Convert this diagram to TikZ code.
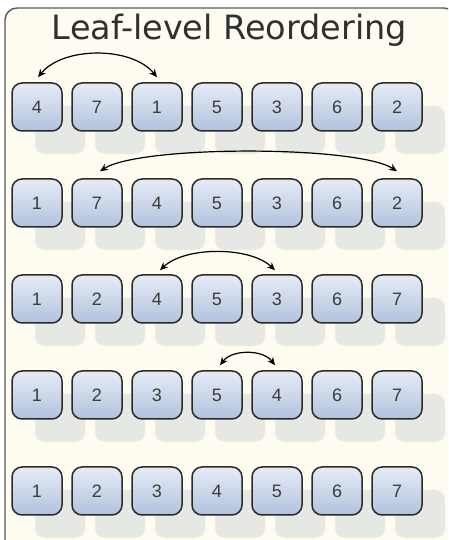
\documentclass[tikz,border=0pt]{standalone}
\usepackage{fontspec}
\setmainfont{DejaVu Sans}
\newfontfamily\numfont{Liberation Sans}
\usetikzlibrary{arrows.meta}
\definecolor{cream}{HTML}{FEFCF0}
\definecolor{framecol}{HTML}{5A5A5A}
\definecolor{shadowcol}{HTML}{E6E8E3}
\definecolor{boxtop}{HTML}{E6ECF6}
\definecolor{boxbot}{HTML}{B2C2DE}
\definecolor{boxline}{HTML}{2A2A2A}
\definecolor{numcol}{HTML}{3C3C3C}
\definecolor{titlecol}{HTML}{303030}
\tikzset{
  cell/.style={rectangle, rounded corners=10pt, minimum width=50pt, minimum height=48pt,
    draw=boxline, line width=1.5pt, top color=boxtop, bottom color=boxbot,
    font=\numfont\fontsize{18}{18}\selectfont, text=numcol, inner sep=0pt},
  shade box/.style={rectangle, rounded corners=10pt, minimum width=50pt, minimum height=48pt,
    fill=shadowcol, draw=none, inner sep=0pt},
  swap/.style={{Stealth[length=8pt,width=7pt]}-{Stealth[length=8pt,width=7pt]}, line width=1.2pt, black}
}
\begin{document}
\begin{tikzpicture}[x=1pt,y=1pt]
\useasboundingbox (0,0) rectangle (448,540);
\clip (0,0) rectangle (448,540);
\fill[white] (0,0) rectangle (448,540);
\draw[framecol, line width=1.4pt, fill=cream, rounded corners=12pt] (5,-12) rectangle (456,532);
\node[font=\fontsize{33.5}{36}\selectfont, text=titlecol, anchor=base] (title) at (229.5,500) {Leaf-level Reordering};
% shadows
\foreach \r in {0,...,4}{
  \foreach \c in {0,...,6}{
    \node[shade box] (s\r\c) at ({37+60*\c+23},{540-(107+96*\r)-23}) {};
  }
}
% boxes
\foreach \r/\vals in {0/{4,7,1,5,3,6,2},1/{1,7,4,5,3,6,2},2/{1,2,4,5,3,6,7},3/{1,2,3,5,4,6,7},4/{1,2,3,4,5,6,7}}{
  \foreach \v [count=\c from 0] in \vals{
    \node[cell] (b\r\c) at ({37+60*\c},{540-(107+96*\r)}) {\v};
  }
}
% swap arcs
\draw[swap] ([xshift=1pt,yshift=5pt]b00.north) .. controls +(25,31) and +(-25,31) .. ([xshift=0pt,yshift=5pt]b02.north);
\draw[swap] ([xshift=3pt,yshift=7pt]b11.north) .. controls +(40,26) and +(-40,26) .. ([xshift=0pt,yshift=7pt]b16.north);
\draw[swap] ([xshift=3pt,yshift=4pt]b22.north) .. controls +(25,24) and +(-25,24) .. ([xshift=-2pt,yshift=4pt]b24.north);
\draw[swap] ([xshift=3pt,yshift=5pt]b33.north) .. controls +(12,16) and +(-12,16) .. ([xshift=-2pt,yshift=5pt]b34.north);
\end{tikzpicture}
\end{document}
